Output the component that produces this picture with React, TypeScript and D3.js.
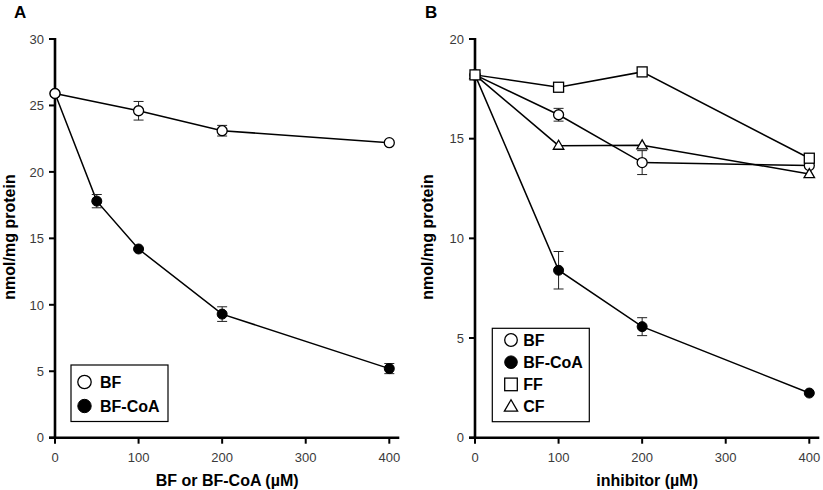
import React from "react";
import * as d3 from "d3";

// ---- Data ----
const xTicks = [0, 100, 200, 300, 400];
const yTicksA = [0, 5, 10, 15, 20, 25, 30];
const yTicksB = [0, 5, 10, 15, 20];

// Panel A
const xA_BF = [0, 100, 200, 400];
const yA_BF = [25.9, 24.6, 23.1, 22.2];
const eA_BF = [0, 0.7, 0.4, 0];
const xA_CoA = [0, 50, 100, 200, 400];
const yA_CoA = [25.9, 17.8, 14.2, 9.3, 5.2];
const eA_CoA = [0, 0.5, 0, 0.55, 0.38];

// Panel B
const xB = [0, 100, 200, 400];
const yB_BF = [18.2, 16.2, 13.8, 13.65];
const eB_BF = [0, 0.32, 0.6, 0];
const yB_CoA = [18.2, 8.4, 5.57, 2.24];
const eB_CoA = [0, 0.94, 0.45, 0];
const yB_FF = [18.2, 17.58, 18.35, 14.02];
const yB_CF = [18.2, 14.65, 14.67, 13.23];

const legendA = ["BF", "BF-CoA"];
const legendB = ["BF", "BF-CoA", "FF", "CF"];

const FONT = "'Liberation Sans', Arial, Helvetica, sans-serif";

type Series = { xs: number[]; ys: number[]; err?: number[]; marker: string };

function Marker({ type, x, y, r }: { type: string; x: number; y: number; r: number }) {
  if (type === "open") return <circle cx={x} cy={y} r={r} fill="#fff" stroke="#000" strokeWidth={1.3} />;
  if (type === "filled") return <circle cx={x} cy={y} r={r} fill="#000" stroke="#000" strokeWidth={1} />;
  if (type === "square")
    return <rect x={x - r} y={y - r} width={2 * r} height={2 * r} fill="#fff" stroke="#000" strokeWidth={1.3} />;
  // triangle
  const h = r * 1.8;
  const pts = [
    [x, y - h * 0.6],
    [x - r * 1.05, y + h * 0.4],
    [x + r * 1.05, y + h * 0.4],
  ];
  return <polygon points={pts.map((p) => p.join(",")).join(" ")} fill="#fff" stroke="#000" strokeWidth={1.3} />;
}

function Panel({
  x0, x1, y0, y1, yMax, yTicks, series, letter, xTitle, legend, legendMarkers, legendBox, legendStep, legendR, yLabelX,
}: any) {
  const xs = d3.scaleLinear().domain([0, 400]).range([x0, x1]);
  const ys = d3.scaleLinear().domain([0, yMax]).range([y0, y1]);
  const line = d3.line<[number, number]>().x((d) => xs(d[0])).y((d) => ys(d[1]));
  const [lx, ly, lw, lh] = legendBox;
  return (
    <g fontFamily={FONT}>
      <text x={letter.x} y={18.3} fontSize={17} fontWeight="bold">{letter.t}</text>
      {/* lines */}
      {series.map((s: Series, i: number) => (
        <path key={"l" + i} d={line(s.xs.map((v, j) => [v, s.ys[j]]) as any) || ""} fill="none" stroke="#000" strokeWidth={1.5} />
      ))}
      {/* axes */}
      <line x1={xs(0)} x2={xs(0)} y1={ys(yMax) - 1} y2={ys(0) + 1.2} stroke="#000" strokeWidth={2.6} />
      <line x1={xs(0) - 6} x2={xs(400) + 10} y1={ys(0)} y2={ys(0)} stroke="#000" strokeWidth={2.6} />
      {yTicks.map((t: number) => (
        <g key={"yt" + t}>
          <line x1={xs(0) - 6} x2={xs(0)} y1={ys(t)} y2={ys(t)} stroke="#000" strokeWidth={2} />
          <text x={xs(0) - 11} y={ys(t) + 4.7} textAnchor="end" fontSize={13} fill="#3a3a3a">{t}</text>
        </g>
      ))}
      {xTicks.map((t) => (
        <g key={"xt" + t}>
          <line x1={xs(t)} x2={xs(t)} y1={ys(0)} y2={ys(0) + 6} stroke="#000" strokeWidth={2} />
          <text x={xs(t)} y={461.5} textAnchor="middle" fontSize={13} fill="#3a3a3a">{t}</text>
        </g>
      ))}
      {/* error bars */}
      {series.map((s: Series, i: number) =>
        s.err
          ? s.xs.map((v, j) =>
              s.err![j] > 0 ? (
                <g key={"e" + i + "-" + j} stroke="#222" strokeWidth={1}>
                  <line x1={xs(v)} x2={xs(v)} y1={ys(s.ys[j] - s.err![j])} y2={ys(s.ys[j] + s.err![j])} />
                  <line x1={xs(v) - 5} x2={xs(v) + 5} y1={ys(s.ys[j] - s.err![j])} y2={ys(s.ys[j] - s.err![j])} />
                  <line x1={xs(v) - 5} x2={xs(v) + 5} y1={ys(s.ys[j] + s.err![j])} y2={ys(s.ys[j] + s.err![j])} />
                </g>
              ) : null
            )
          : null
      )}
      {/* markers */}
      {series.map((s: Series, i: number) =>
        s.xs.map((v, j) => <Marker key={"m" + i + "-" + j} type={s.marker} x={xs(v)} y={ys(s.ys[j])} r={5} />)
      )}
      {/* titles */}
      <text x={(xs(0) + xs(400)) / 2 + 5} y={485.5} textAnchor="middle" fontSize={16} fontWeight="bold">{xTitle}</text>
      <text transform={`translate(${yLabelX},237) rotate(-90)`} textAnchor="middle" fontSize={16} fontWeight="bold">
        nmol/mg protein
      </text>
      {/* legend */}
      <rect x={lx} y={ly} width={lw} height={lh} fill="#fff" stroke="#000" strokeWidth={1.2} />
      {legend.map((name: string, i: number) => {
        const cy = ly + legendStep.first + i * legendStep.step;
        return (
          <g key={"lg" + i}>
            <Marker type={legendMarkers[i]} x={legendStep.mx} y={cy} r={legendR} />
            <text x={legendStep.tx} y={cy + 5.6} fontSize={16} fontWeight="bold">{name}</text>
          </g>
        );
      })}
    </g>
  );
}

export default function App() {
  const seriesA: Series[] = [
    { xs: xA_CoA, ys: yA_CoA, err: eA_CoA, marker: "filled" },
    { xs: xA_BF, ys: yA_BF, err: eA_BF, marker: "open" },
  ];
  const seriesB: Series[] = [
    { xs: xB, ys: yB_CoA, err: eB_CoA, marker: "filled" },
    { xs: xB, ys: yB_BF, err: eB_BF, marker: "open" },
    { xs: xB, ys: yB_CF, marker: "triangle" },
    { xs: xB, ys: yB_FF, marker: "square" },
  ];
  return (
    <svg width={823} height={490} style={{ position: "absolute", left: 0, top: 0, background: "#fff" }}>
      <rect width={823} height={490} fill="#fff" />
      <Panel
        x0={55} x1={389.3} y0={437.7} y1={39} yMax={30} yTicks={yTicksA} series={seriesA}
        letter={{ x: 14, t: "A" }} xTitle="BF or BF-CoA (µM)" legend={legendA}
        legendMarkers={["open", "filled"]} legendBox={[71, 365, 97, 56.5]}
        legendStep={{ first: 17, step: 24, mx: 84.5, tx: 100 }} legendR={6.7} yLabelX={15}
      />
      <Panel
        x0={475} x1={809.3} y0={437.7} y1={39} yMax={20} yTicks={yTicksB} series={seriesB}
        letter={{ x: 425, t: "B" }} xTitle="inhibitor (µM)" legend={legendB}
        legendMarkers={["open", "filled", "square", "triangle"]} legendBox={[492.3, 328.3, 97, 93.4]}
        legendStep={{ first: 11.7, step: 22.2, mx: 511, tx: 523.3 }} legendR={6.3} yLabelX={433}
      />
    </svg>
  );
}
